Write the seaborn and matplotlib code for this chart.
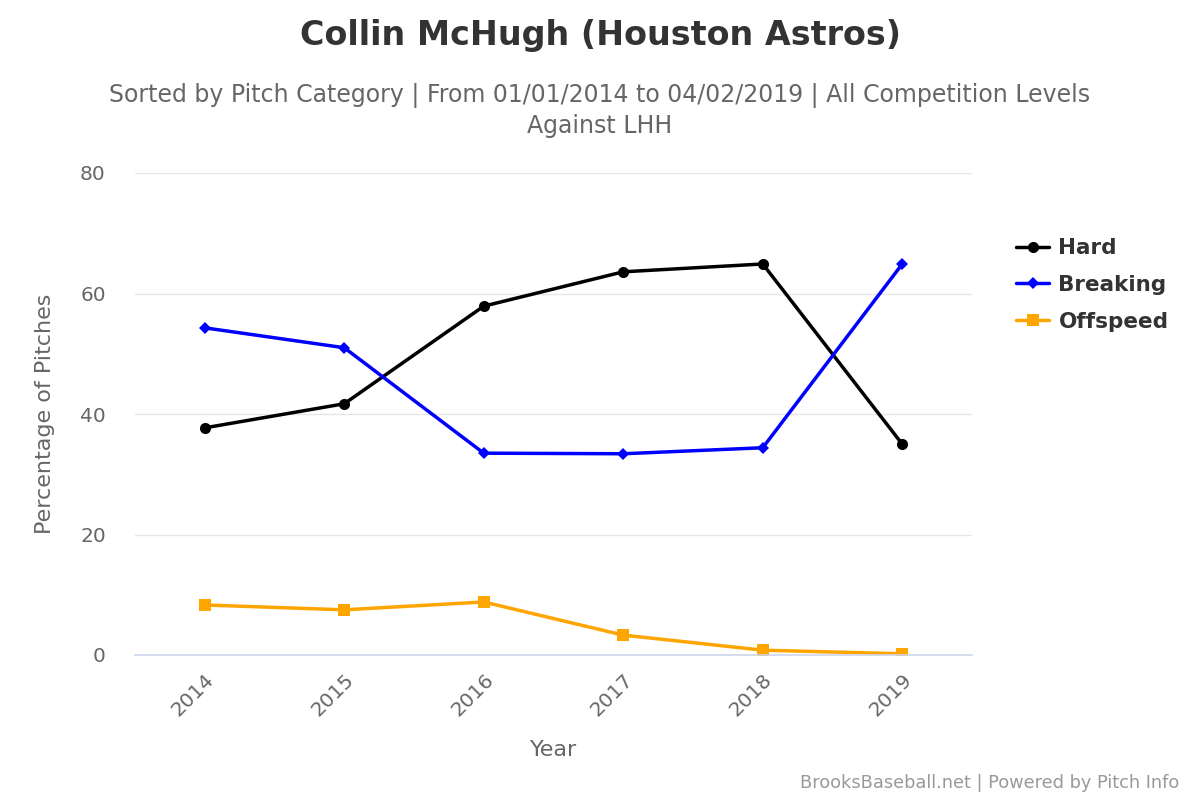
import pandas as pd
import matplotlib.pyplot as plt
import seaborn as sns

# Values
years = [2014, 2015, 2016, 2017, 2018, 2019]
hard = [37.7, 41.7, 57.9, 63.6, 64.9, 35.0]
breaking = [54.3, 51.0, 33.5, 33.4, 34.4, 64.9]
offspeed = [8.3, 7.5, 8.8, 3.3, 0.8, 0.2]

series_names = ['Hard', 'Breaking', 'Offspeed']
colors = ['#000000', '#0000ff', '#ffa500']
markers = ['o', 'D', 's']
marker_sizes = [8, 6, 9]

df = pd.DataFrame({'Year': years, 'Hard': hard, 'Breaking': breaking, 'Offspeed': offspeed})
long_df = df.melt(id_vars='Year', var_name='Category', value_name='Pct')

sns.set_theme(style='white')
plt.rcParams['font.family'] = ['DejaVu Sans']

fig = plt.figure(figsize=(12, 8), dpi=100)
ax = fig.add_axes([0.1125, 0.18125, 0.6975, 0.6025])

for name, col, mk, ms in zip(series_names, colors, markers, marker_sizes):
    sub = long_df[long_df['Category'] == name]
    sns.lineplot(data=sub, x='Year', y='Pct', ax=ax, color=col, marker=mk,
                 markersize=ms, markeredgewidth=0, linewidth=2.5, label=name)

ax.set_xlim(2013.5, 2019.5)
ax.set_ylim(0, 80)
ax.set_yticks([0, 20, 40, 60, 80])
ax.set_xticks(years)
ax.set_xticklabels([str(y) for y in years], rotation=45, ha='right', rotation_mode='anchor')
ax.tick_params(axis='both', colors='#666666', labelsize=14.5, length=0)
ax.tick_params(axis='y', pad=21)
ax.tick_params(axis='x', pad=11)
ax.grid(axis='y', color='#e6e6e6', linewidth=1)
ax.set_axisbelow(True)
for s in ['left', 'right', 'top']:
    ax.spines[s].set_visible(False)
ax.spines['bottom'].set_color('#ccd6eb')
ax.spines['bottom'].set_linewidth(1.2)

ax.set_xlabel('Year', fontsize=16, color='#666666', labelpad=14)
ax.set_ylabel('Percentage of Pitches', fontsize=16, color='#666666', labelpad=18)

leg = ax.legend(loc='upper left', bbox_to_anchor=(1.03, 0.905), frameon=False,
                prop={'weight': 'bold', 'size': 15.5}, handlelength=1.5,
                labelspacing=0.78, handletextpad=0.45)
for t in leg.get_texts():
    t.set_color('#333333')

fig.text(0.5, 0.956, 'Collin McHugh (Houston Astros)', ha='center', va='center',
         fontsize=24, fontweight='bold', color='#333333')
fig.text(0.5, 0.88, 'Sorted by Pitch Category | From 01/01/2014 to 04/02/2019 | All Competition Levels',
         ha='center', va='center', fontsize=17, color='#666666')
fig.text(0.5, 0.842, 'Against LHH', ha='center', va='center', fontsize=17, color='#666666')
fig.text(0.983, 0.021, 'BrooksBaseball.net | Powered by Pitch Info', ha='right', va='center',
         fontsize=12.8, color='#999999')

fig.savefig('out.png', dpi=100)
